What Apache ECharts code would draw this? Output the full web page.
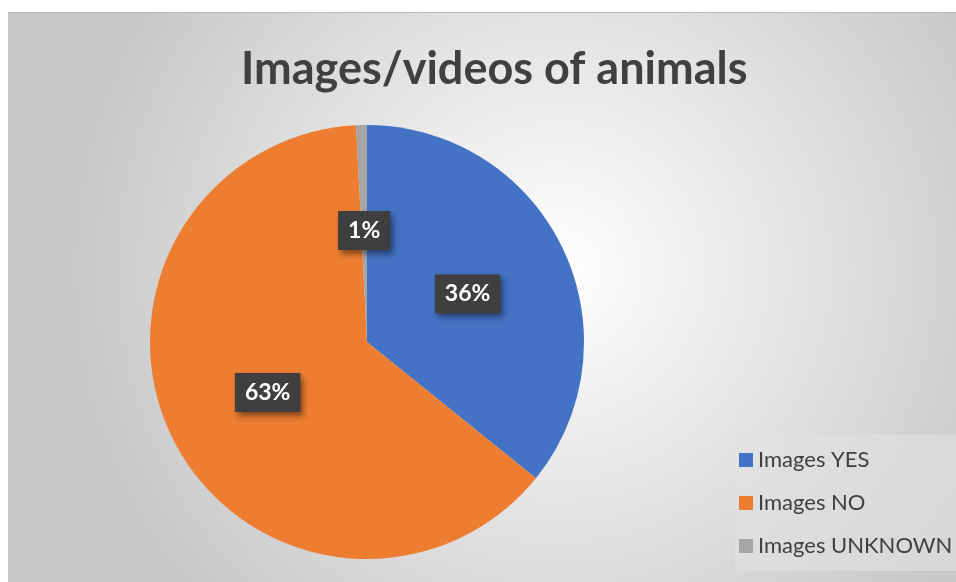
<!DOCTYPE html>
<html>
<head>
<meta charset="utf-8">
<script src="https://cdn.jsdelivr.net/npm/echarts@6/dist/echarts.min.js"></script>
<style>
  html, body { margin: 0; padding: 0; background: #fff; }
  #chart {
    position: absolute;
    left: 8px;
    top: 12px;
    width: 948px;
    height: 570px;
    border-top: 1px solid #b8b8b8;
  }
</style>
</head>
<body>
<div id="chart"></div>
<script>
const categories = ['Images YES', 'Images NO', 'Images UNKNOWN']
const shares = [35.8, 63.4, 0.8]
const sliceColors = ['#4472C4', '#ED7D31', '#A5A5A5']

const chart = echarts.init(document.getElementById('chart'))

const option = {
  backgroundColor: new echarts.graphic.RadialGradient(0.58, 0.45, 0.85, [
    { offset: 0, color: '#ffffff' },
    { offset: 1, color: '#c8c8c8' },
  ]),
  title: {
    text: 'Images/videos of animals',
    left: 228,
    top: 29,
    textStyle: {
      fontFamily: 'Lato',
      fontWeight: 'bold',
      fontSize: 45,
      color: '#404040',
    },
  },
  legend: {
    orient: 'vertical',
    left: 727,
    top: 422,
    padding: [14, 40, 14, 4],
    backgroundColor: 'rgba(225, 225, 225, 0.6)',
    itemWidth: 14,
    itemHeight: 14,
    itemGap: 21,
    icon: 'rect',
    textStyle: {
      fontFamily: 'Lato',
      fontSize: 22,
      color: '#404040',
    },
    data: categories,
  },
  series: [
    {
      type: 'pie',
      center: [359, 329],
      radius: 217,
      startAngle: 90,
      clockwise: true,
      animation: false,
      data: categories.map((name, i) => ({
        name,
        value: shares[i],
        itemStyle: { color: sliceColors[i] },
      })),
      label: {
        position: 'inside',
        formatter: (p) => Math.round(p.value) + '%',
        fontFamily: 'Lato',
        fontWeight: 'bold',
        fontSize: 23,
        color: '#ffffff',
        backgroundColor: '#3f3f3f',
        padding: [9, 10, 7, 10],
        shadowBlur: 6,
        shadowOffsetX: 3,
        shadowOffsetY: 4,
        shadowColor: 'rgba(0, 0, 0, 0.45)',
      },
      labelLine: { show: false },
      emphasis: { disabled: true },
    },
  ],
}

chart.setOption(option)
</script>
</body>
</html>
